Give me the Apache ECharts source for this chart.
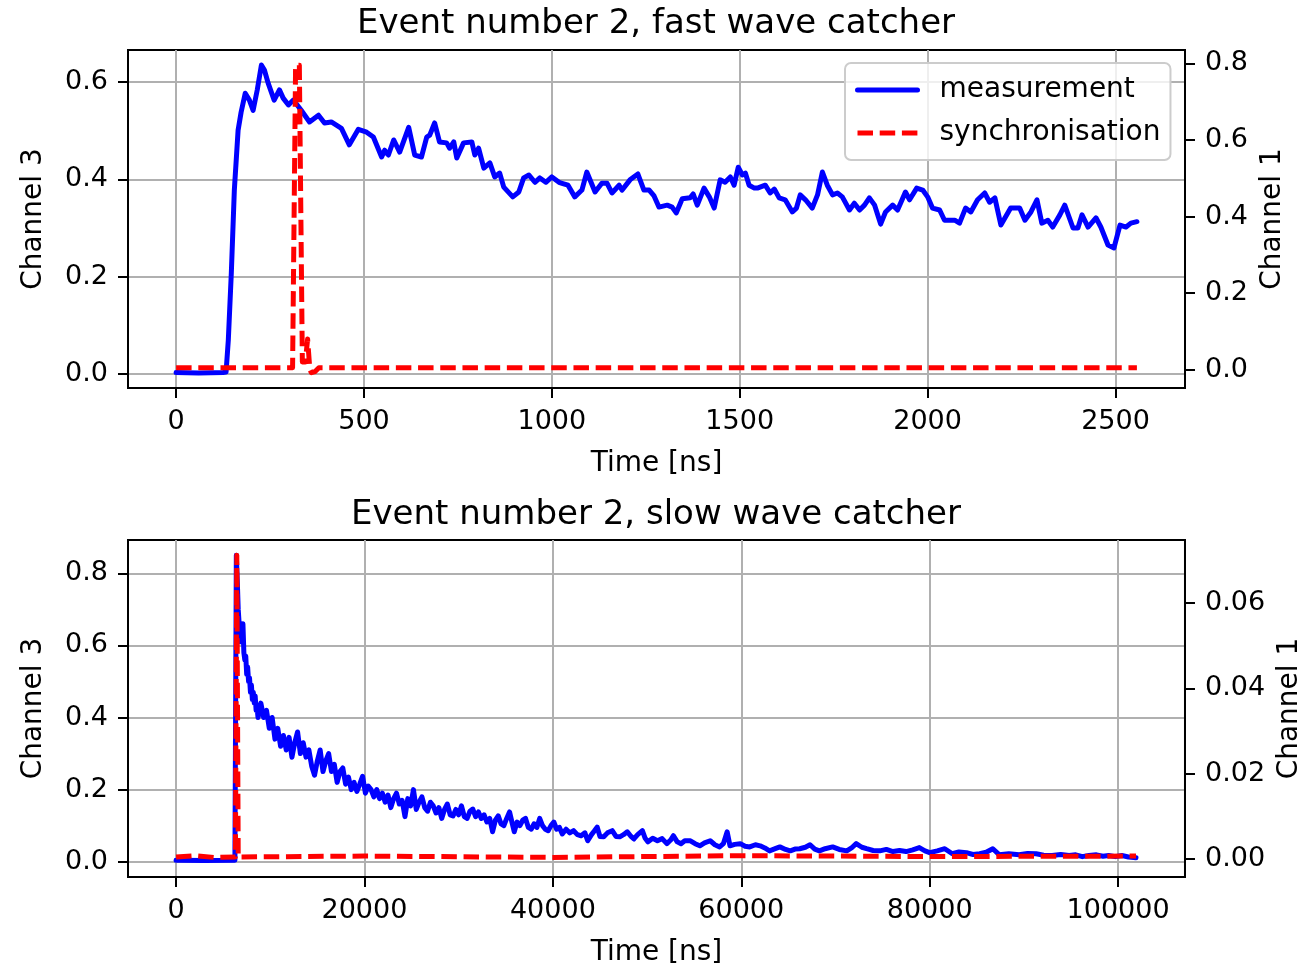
<!DOCTYPE html>
<html>
<head>
<meta charset="utf-8">
<script src="https://cdn.jsdelivr.net/npm/echarts@6/dist/echarts.min.js"></script>
<style>
html,body{margin:0;padding:0;background:#fff;}
#chart{width:1312px;height:968px;}
</style>
</head>
<body>
<div id="chart"></div>
<script>
// ---------- DATA ----------
const titles = ['Event number 2, fast wave catcher', 'Event number 2, slow wave catcher'];
const seriesNames = ['measurement', 'synchronisation'];
const xName = 'Time [ns]';
const leftName = 'Channel 3';
const rightName = 'Channel 1';

// fast wave catcher, measurement (Channel 3)
const fastMeasTime = [0,60,125,133,139,147,155,165,173,184,195,205,216,227,235,245,261,275,285,299,312,333,355,379,395,413,440,461,485,507,525,547,555,565,579,595,619,635,653,667,675,688,701,720,728,739,747,765,787,795,805,819,835,848,861,872,896,912,925,939,955,968,984,1000,1019,1027,1043,1061,1080,1093,1115,1133,1147,1160,1179,1187,1208,1229,1245,1259,1272,1285,1307,1320,1331,1347,1368,1376,1387,1405,1419,1432,1448,1461,1475,1485,1496,1507,1515,1525,1539,1547,1568,1581,1592,1605,1621,1640,1651,1661,1675,1693,1707,1720,1733,1747,1760,1773,1792,1805,1819,1832,1845,1859,1875,1888,1907,1920,1928,1941,1952,1971,1987,2000,2013,2032,2045,2061,2072,2085,2101,2115,2133,2152,2165,2179,2195,2221,2245,2259,2275,2291,2304,2320,2333,2352,2365,2387,2400,2411,2427,2448,2461,2480,2496,2512,2528,2541,2557];
const fastMeasValue = [0.003,0.002,0.003,0.004,0.070,0.208,0.378,0.501,0.538,0.577,0.563,0.542,0.584,0.635,0.625,0.598,0.563,0.584,0.567,0.553,0.563,0.542,0.518,0.532,0.516,0.518,0.505,0.471,0.503,0.497,0.487,0.446,0.460,0.450,0.481,0.456,0.507,0.450,0.446,0.487,0.491,0.516,0.477,0.475,0.464,0.477,0.444,0.475,0.477,0.450,0.464,0.423,0.434,0.405,0.413,0.384,0.364,0.374,0.403,0.409,0.394,0.403,0.394,0.405,0.394,0.392,0.388,0.364,0.378,0.415,0.374,0.392,0.392,0.372,0.388,0.378,0.399,0.411,0.378,0.378,0.366,0.343,0.347,0.343,0.331,0.360,0.362,0.370,0.347,0.382,0.364,0.341,0.399,0.394,0.405,0.388,0.425,0.409,0.413,0.388,0.382,0.382,0.388,0.372,0.380,0.362,0.358,0.333,0.341,0.368,0.358,0.341,0.368,0.415,0.388,0.368,0.372,0.364,0.337,0.351,0.337,0.347,0.362,0.347,0.308,0.333,0.347,0.337,0.351,0.374,0.358,0.382,0.378,0.364,0.341,0.337,0.316,0.316,0.316,0.310,0.341,0.333,0.358,0.372,0.353,0.362,0.306,0.341,0.341,0.316,0.333,0.358,0.310,0.316,0.302,0.327,0.347,0.300,0.300,0.327,0.302,0.321,0.302,0.265,0.259,0.306,0.302,0.310,0.313];

// fast wave catcher, synchronisation (Channel 1)
const fastSyncTime = [0,310,312,318,328,336,344,350,356,360,370,380,2557];
const fastSyncValue = [0.005,0.005,0.005,0.795,0.795,0.02,0.02,0.08,0.0,-0.008,-0.005,0.005,0.005];

// slow wave catcher, measurement (Channel 3)
const slowMeasTime = [0,3000,6250,6400,6500,6600,6700,6800,6900,7000,7100,7200,7300,7400,7500,7600,7700,7800,7900,8000,8100,8200,8300,8400,8500,8600,8700,9000,9300,9600,9900,10200,10500,10800,11100,11400,11700,12000,12300,12600,12900,13200,13500,13800,14100,14400,14700,15000,15300,15600,15900,16200,16500,16800,17100,17400,17700,18000,18300,18600,18900,19200,19500,19800,20100,20400,20700,21000,21300,21600,21900,22200,22500,22800,23100,23400,23700,24000,24300,24600,24900,25200,25500,25800,26100,26400,26700,27000,27300,27600,27900,28200,28500,28800,29100,29400,29700,30000,30300,30600,30900,31200,31500,31800,32100,32400,32700,33000,33300,33600,33900,34200,34500,34800,35100,35400,35700,35900,36200,36500,36800,37100,37400,37700,38000,38300,38600,38900,39200,39500,39800,40100,40400,40700,41000,41400,41800,42200,42600,43000,43400,43700,44100,44400,44700,45000,45400,45800,46300,46700,47100,47500,47900,48300,48600,49000,49500,49800,50100,50600,51100,51600,52100,52500,52800,53200,53600,54000,54600,55100,55600,56100,56700,57200,57700,58100,58500,58800,59300,59900,60400,60900,61500,62000,62500,63000,63600,64100,64700,65200,65700,66200,66800,67300,67800,68300,68900,69700,70400,71200,71700,72200,72800,73300,74000,74700,75400,76100,76800,77500,78200,78900,79500,80000,80800,81600,82400,83100,83900,84600,85300,86000,86700,87400,88400,89500,90400,91300,92100,93000,93900,94800,95500,96200,96900,97700,98400,99000,99700,100400,101100,101900];
const slowMeasValue = [0.004,0.003,0.004,0.850,0.780,0.700,0.660,0.610,0.660,0.630,0.660,0.580,0.560,0.570,0.520,0.540,0.500,0.510,0.470,0.490,0.450,0.470,0.440,0.460,0.420,0.430,0.400,0.440,0.400,0.420,0.370,0.400,0.340,0.370,0.320,0.350,0.310,0.345,0.290,0.330,0.360,0.300,0.330,0.290,0.310,0.265,0.240,0.280,0.310,0.250,0.280,0.300,0.250,0.270,0.220,0.250,0.260,0.215,0.235,0.200,0.220,0.195,0.215,0.237,0.190,0.210,0.200,0.180,0.200,0.175,0.190,0.165,0.185,0.150,0.175,0.190,0.160,0.170,0.125,0.175,0.155,0.200,0.145,0.165,0.180,0.150,0.140,0.165,0.155,0.135,0.150,0.120,0.145,0.160,0.130,0.127,0.145,0.130,0.155,0.125,0.120,0.140,0.146,0.125,0.138,0.120,0.130,0.110,0.120,0.083,0.115,0.127,0.105,0.100,0.120,0.138,0.105,0.083,0.110,0.100,0.115,0.120,0.095,0.090,0.105,0.095,0.120,0.100,0.090,0.086,0.100,0.110,0.090,0.095,0.077,0.090,0.080,0.086,0.075,0.072,0.080,0.058,0.075,0.085,0.096,0.070,0.069,0.080,0.086,0.070,0.069,0.075,0.083,0.070,0.063,0.075,0.086,0.065,0.055,0.065,0.058,0.064,0.050,0.060,0.072,0.055,0.050,0.058,0.058,0.050,0.044,0.052,0.058,0.047,0.041,0.050,0.083,0.044,0.048,0.050,0.043,0.041,0.047,0.044,0.038,0.030,0.036,0.041,0.034,0.030,0.035,0.036,0.040,0.047,0.035,0.030,0.036,0.041,0.034,0.030,0.038,0.050,0.040,0.036,0.031,0.030,0.034,0.028,0.031,0.028,0.033,0.039,0.030,0.025,0.030,0.036,0.022,0.027,0.025,0.020,0.022,0.026,0.036,0.019,0.022,0.019,0.023,0.022,0.018,0.017,0.020,0.017,0.019,0.014,0.017,0.019,0.015,0.017,0.014,0.017,0.013,0.011];

// slow wave catcher, synchronisation (Channel 1)
const slowSyncTime = [0,2000,4000,6300,6450,6600,20000,40000,60000,80000,101900];
const slowSyncValue = [0.0005,0.0008,0.0004,0.0005,0.0712,0.0005,0.0007,0.0004,0.0008,0.0006,0.0007];

// tick labels
const fastTimeTicks = [0,500,1000,1500,2000,2500];
const slowTimeTicks = [0,20000,40000,60000,80000,100000];
const fastLeftTicks = [0.0,0.2,0.4,0.6];
const fastRightTicks = [0.0,0.2,0.4,0.6,0.8];
const slowLeftTicks = [0.0,0.2,0.4,0.6,0.8];
const slowRightTicks = [0.00,0.02,0.04,0.06];

// ---------- CHART ----------
const FONT = 'DejaVu Sans';
const zip = (a, b) => a.map((v, i) => [v, b[i]]);
const black = '#000000';

function xAxis(grid, min, max, ticks) {
  const step = ticks[1] - ticks[0];
  return {
    type: 'value', gridIndex: grid, min: min, max: max,
    minInterval: step, maxInterval: step,
    name: xName, nameLocation: 'middle', nameGap: 62,
    nameTextStyle: {fontFamily: FONT, fontSize: 28, color: black},
    axisLine: {show: true, onZero: false, lineStyle: {color: black, width: 2}},
    axisTick: {show: true, inside: false, length: 10, customValues: ticks, lineStyle: {color: black, width: 2}},
    axisLabel: {customValues: ticks, fontFamily: FONT, fontSize: 27, color: black, margin: 20,
      formatter: v => String(Math.round(v))},
    splitLine: {show: true, lineStyle: {color: '#b0b0b0', width: 2}}
  };
}
function yAxis(grid, pos, min, max, ticks, decimals, name, gap, grid_lines) {
  const step = ticks[1] - ticks[0];
  return {
    type: 'value', gridIndex: grid, position: pos, min: min, max: max,
    minInterval: step, maxInterval: step,
    name: name, nameLocation: 'middle', nameGap: gap, nameRotate: 90,
    nameTextStyle: {fontFamily: FONT, fontSize: 28, color: black},
    axisLine: {show: true, onZero: false, lineStyle: {color: black, width: 2}},
    axisTick: {show: true, inside: false, length: 10, customValues: ticks, lineStyle: {color: black, width: 2}},
    axisLabel: {customValues: ticks, fontFamily: FONT, fontSize: 27, color: black, margin: 20,
      formatter: v => Number(v).toFixed(decimals)},
    splitLine: {show: grid_lines, lineStyle: {color: '#b0b0b0', width: 2}}
  };
}
const LW = 5;
const blueStyle = {color: '#0000ff', width: LW, cap: 'round', join: 'round'};
const redStyle = {color: '#ff0000', width: LW, type: [15.5, 6.7], join: 'round'};

const option = {
  backgroundColor: '#ffffff',
  animation: false,
  title: [
    {text: titles[0], left: 'center', top: 2, textStyle: {fontFamily: FONT, fontSize: 34, fontWeight: 'normal', color: black}},
    {text: titles[1], left: 'center', top: 493, textStyle: {fontFamily: FONT, fontSize: 34, fontWeight: 'normal', color: black}}
  ],
  legend: {
    data: seriesNames, orient: 'vertical', left: 845, top: 63,
    itemWidth: 60, itemHeight: 28, itemGap: 15,
    padding: [13, 10, 13, 10],
    backgroundColor: 'rgba(255,255,255,0.8)', borderColor: '#cccccc', borderWidth: 2, borderRadius: 6,
    itemStyle: {opacity: 0},
    lineStyle: {width: LW},
    textStyle: {fontFamily: FONT, fontSize: 28, color: black, padding: [0, 0, 0, 17]},
    selectedMode: false
  },
  grid: [
    {left: 128, width: 1057, top: 50, height: 338, show: true, borderColor: black, borderWidth: 2, backgroundColor: 'transparent'},
    {left: 128, width: 1057, top: 540, height: 338, show: true, borderColor: black, borderWidth: 2, backgroundColor: 'transparent'}
  ],
  xAxis: [
    xAxis(0, -128, 2685, fastTimeTicks),
    xAxis(1, -5100, 107100, slowTimeTicks)
  ],
  yAxis: [
    yAxis(0, 'left', -0.029, 0.666, fastLeftTicks, 1, leftName, 80, true),
    yAxis(0, 'right', -0.048, 0.835, fastRightTicks, 1, rightName, 70, false),
    yAxis(1, 'left', -0.0425, 0.8925, slowLeftTicks, 1, leftName, 80, true),
    yAxis(1, 'right', -0.0042, 0.0748, slowRightTicks, 2, rightName, 89, false)
  ],
  series: [
    {type: 'line', name: seriesNames[0], xAxisIndex: 0, yAxisIndex: 0, data: zip(fastMeasTime, fastMeasValue), symbol: 'none', showSymbol: false, lineStyle: blueStyle, itemStyle: {color: '#0000ff'}, z: 3},
    {type: 'line', name: seriesNames[1], xAxisIndex: 0, yAxisIndex: 1, data: zip(fastSyncTime, fastSyncValue), symbol: 'none', showSymbol: false, lineStyle: redStyle, itemStyle: {color: '#ff0000'}, z: 4},
    {type: 'line', name: seriesNames[0], xAxisIndex: 1, yAxisIndex: 2, data: zip(slowMeasTime, slowMeasValue), symbol: 'none', showSymbol: false, lineStyle: blueStyle, itemStyle: {color: '#0000ff'}, z: 3},
    {type: 'line', name: seriesNames[1], xAxisIndex: 1, yAxisIndex: 3, data: zip(slowSyncTime, slowSyncValue), symbol: 'none', showSymbol: false, lineStyle: redStyle, itemStyle: {color: '#ff0000'}, z: 4}
  ]
};
const chart = echarts.init(document.getElementById('chart'), null, {renderer: 'canvas'});
chart.setOption(option);
</script>
</body>
</html>
